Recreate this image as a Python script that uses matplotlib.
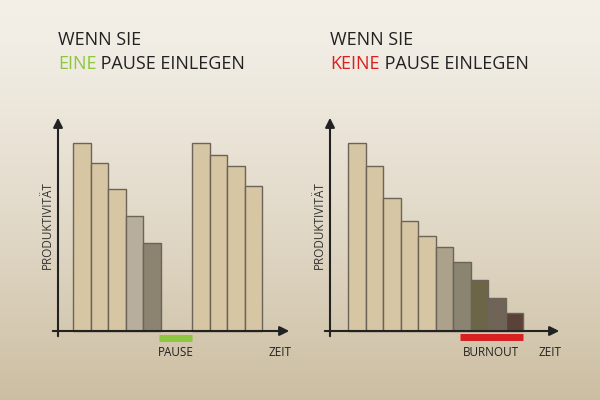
import matplotlib.pyplot as plt
import numpy as np

# bar heights (pixels above baseline)
left_before = [188, 168, 142, 115, 88]
left_after = [188, 176, 165, 145]
right_vals = [188, 165, 133, 110, 95, 84, 69, 51, 33, 18]

left_colors = ["#d6c6a3", "#d6c6a3", "#d6c6a3", "#b8ae9e", "#8c8470"]
right_colors = ["#d6c6a3"] * 5 + ["#aca28c", "#8a8470", "#6d6548", "#706456", "#5a4238"]

fig = plt.figure(figsize=(6, 4), dpi=100)
ax = fig.add_axes([0, 0, 1, 1])
ax.set_xlim(0, 600)
ax.set_ylim(400, 0)
ax.axis("off")

grad = np.linspace(0, 1, 256)[:, None]
top = np.array([0.955, 0.94, 0.91])
bot = np.array([0.80, 0.745, 0.635])
img = top + (bot - top) * grad[..., None] ** 1.3
ax.imshow(img, extent=[0, 600, 400, 0], aspect="auto", zorder=0)

base = 331
w = 17.5
edge = "#6b6458"

x1 = 73 + w / 2 + w * np.arange(len(left_before))
ax.bar(x1, [-v for v in left_before], width=w, bottom=base, color=left_colors, edgecolor=edge, lw=1, zorder=2)
x2 = 192 + w / 2 + w * np.arange(len(left_after))
ax.bar(x2, [-v for v in left_after], width=w, bottom=base, color="#d6c6a3", edgecolor=edge, lw=1, zorder=2)
x3 = 348 + w / 2 + w * np.arange(len(right_vals))
ax.bar(x3, [-v for v in right_vals], width=w, bottom=base, color=right_colors, edgecolor=edge, lw=1, zorder=2)

for x0, x_end in [(58, 292), (330, 562)]:
    ax.annotate("", xy=(x0, 115), xytext=(x0, base + 8),
                arrowprops=dict(arrowstyle="-|>", color="#222", lw=1.5, mutation_scale=14), zorder=3)
    ax.annotate("", xy=(x_end, base), xytext=(x0 - 8, base),
                arrowprops=dict(arrowstyle="-|>", color="#222", lw=1.5, mutation_scale=14), zorder=3)
    ax.text(x0 - 11, 225, "PRODUKTIVITÄT", rotation=90, ha="center", va="center",
            fontsize=8.5, color="#333", family="Open Sans")
    ax.text(x_end - 12, 352, "ZEIT", ha="center", va="center", fontsize=8.5, color="#222", family="Open Sans")

ax.plot([159, 192], [338, 338], color="#8dc63f", lw=5, solid_capstyle="butt", zorder=3)
ax.text(175.5, 352, "PAUSE", ha="center", va="center", fontsize=8.5, color="#222", family="Open Sans")
ax.plot([460, 523], [337, 337], color="#d7201f", lw=5, solid_capstyle="butt", zorder=3)
ax.text(491, 352, "BURNOUT", ha="center", va="center", fontsize=8.5, color="#222", family="Open Sans")

fs = 13
ax.text(58, 40, "WENN SIE", fontsize=fs, color="#222", va="center", family="Open Sans")
t = ax.text(58, 64, "EINE", fontsize=fs, color="#8dc63f", va="center", family="Open Sans")
ax.annotate(" PAUSE EINLEGEN", xycoords=t, xy=(1, 0), va="bottom", fontsize=fs, color="#222", family="Open Sans")
ax.text(330, 40, "WENN SIE", fontsize=fs, color="#222", va="center", family="Open Sans")
t = ax.text(330, 64, "KEINE", fontsize=fs, color="#d7201f", va="center", family="Open Sans")
ax.annotate(" PAUSE EINLEGEN", xycoords=t, xy=(1, 0), va="bottom", fontsize=fs, color="#222", family="Open Sans")

fig.savefig("out.png", dpi=100)
